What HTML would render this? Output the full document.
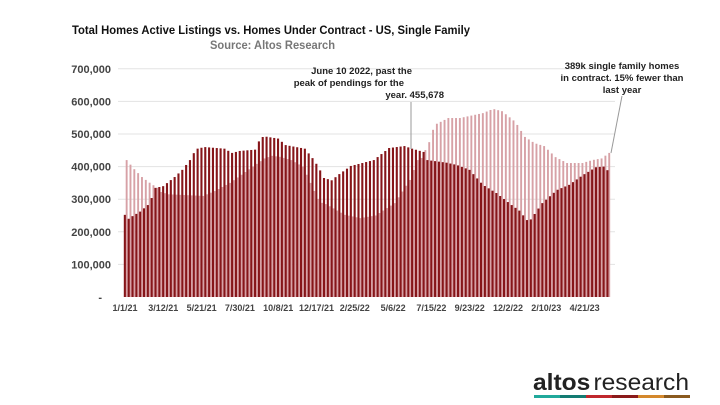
<!DOCTYPE html>
<html><head><meta charset="utf-8"><style>
html,body{margin:0;padding:0;background:#fff;width:720px;height:405px;overflow:hidden}
svg{display:block;font-family:"Liberation Sans",Arial,sans-serif}
</style></head><body>
<svg id="s" width="720" height="405" viewBox="0 0 720 405" xmlns="http://www.w3.org/2000/svg">
<text x="72" y="34" font-size="12" font-weight="bold" fill="#111" textLength="398" lengthAdjust="spacingAndGlyphs">Total Homes Active Listings vs. Homes Under Contract - US, Single Family</text>
<text x="210" y="49" font-size="11.5" font-weight="bold" fill="#777" textLength="125" lengthAdjust="spacingAndGlyphs">Source: Altos Research</text>
<g id="grid"></g>
<g id="bars"></g>
<g id="labels" font-size="11" fill="#444" font-weight="bold"></g>
<text x="412" y="74" font-size="9.5" font-weight="bold" fill="#222" text-anchor="end">June 10 2022, past the</text>
<text x="404" y="86" font-size="9.5" font-weight="bold" fill="#222" text-anchor="end">peak of pendings for the</text>
<text x="444" y="98" font-size="9.5" font-weight="bold" fill="#222" text-anchor="end">year.  455,678</text>
<line x1="411" y1="102" x2="411" y2="149" stroke="#999" stroke-width="1"/>
<text x="622" y="69" font-size="9.5" font-weight="bold" fill="#222" text-anchor="middle">389k single family homes</text>
<text x="622" y="81" font-size="9.5" font-weight="bold" fill="#222" text-anchor="middle">in contract. 15% fewer than</text>
<text x="622" y="93" font-size="9.5" font-weight="bold" fill="#222" text-anchor="middle">last year</text>
<line x1="622" y1="96" x2="611" y2="153" stroke="#999" stroke-width="1"/>
<text x="533" y="390" font-size="23" fill="#222" textLength="156" lengthAdjust="spacingAndGlyphs"><tspan font-weight="bold">altos</tspan><tspan dx="3">research</tspan></text>
<rect x="534" y="395" width="26" height="3" fill="#20a99b"/>
<rect x="560" y="395" width="26" height="3" fill="#137b72"/>
<rect x="586" y="395" width="26" height="3" fill="#c0272d"/>
<rect x="612" y="395" width="26" height="3" fill="#8b1a1a"/>
<rect x="638" y="395" width="26" height="3" fill="#d4882c"/>
<rect x="664" y="395" width="26" height="3" fill="#8a5a1f"/>
</svg>
<script>
var NS="http://www.w3.org/2000/svg";
function el(p,t,a,txt){var e=document.createElementNS(NS,t);for(var k in a)e.setAttribute(k,a[k]);if(txt!=null)e.textContent=txt;document.getElementById(p).appendChild(e);return e;}
var y0=297,ppk=0.326,x0=125,dx=3.83,N=127;
function Y(v){return y0-v*ppk;}
var yl=["-","100,000","200,000","300,000","400,000","500,000","600,000","700,000"];
for(var i=0;i<8;i++){var y=Y(i*100);
 if(i>0)el("grid","line",{x1:118,x2:615,y1:y,y2:y,stroke:"#e3e3e3","stroke-width":1});
 el("labels","text",{x:i==0?102:111,y:y+4,"text-anchor":"end"},yl[i]);}
var xl=["1/1/21","3/12/21","5/21/21","7/30/21","10/8/21","12/17/21","2/25/22","5/6/22","7/15/22","9/23/22","12/2/22","2/10/23","4/21/23"];
for(var i=0;i<xl.length;i++)el("labels","text",{x:x0+i*10*dx,y:311,"text-anchor":"middle","font-size":9},xl[i]);
var D=[[0,252],[1,240],[2,248],[4,262],[6,282],[7.3,310],[7.7,334],[10,340],[13,368],[15,390],[17,420],[18.6,454],[20.8,460],[26,455],[28,442],[30,448],[34,452],[35.5,490],[36.8,492],[40,486],[42,466],[47,455],[49,426],[50.5,400],[52,365],[54,358],[56,377],[59,402],[65,420],[69,457],[73,463],[75,455],[78,445],[79,420],[84,412],[86.7,405],[90,390],[93.5,344],[97,319],[101,282],[103,265],[105,236],[106,238],[109,288],[112.8,328],[116,344],[119.6,374],[123,398],[125,400],[126,389]];
var P=[[0,420],[2,392],[4,368],[5.7,353],[8,335],[9,322],[11,315],[20,310],[23,325],[27,350],[30,375],[33,400],[36,425],[38,433],[40,430],[43,420],[46,400],[48,350],[50.4,291],[52,285],[57,252],[61,242],[65,250],[70,288],[74,359],[76,420],[76.5,414],[79,475],[80.4,528],[84,549],[87,549],[93,564],[95.7,577],[98,570],[101.5,537],[104,491],[106.5,472],[109,463],[112,429],[115,411],[119,411],[121.6,420],[124,425],[126,442]];
function interp(k,w){for(var i=0;i<k.length-1;i++){if(w>=k[i][0]&&w<=k[i+1][0]){var t=(w-k[i][0])/(k[i+1][0]-k[i][0]);return k[i][1]+t*(k[i+1][1]-k[i][1]);}}return k[k.length-1][1];}
for(var w=0;w<N;w++){var x=x0+w*dx;
 var p=interp(P,w),d=interp(D,w);
 el("bars","rect",{x:x+0.7,y:Y(p),width:1.9,height:p*ppk,fill:"#d7a1a6"});
 el("bars","rect",{x:x-1.2,y:Y(d),width:2.1,height:d*ppk,fill:"#861519"});}
</script>
</body></html>
